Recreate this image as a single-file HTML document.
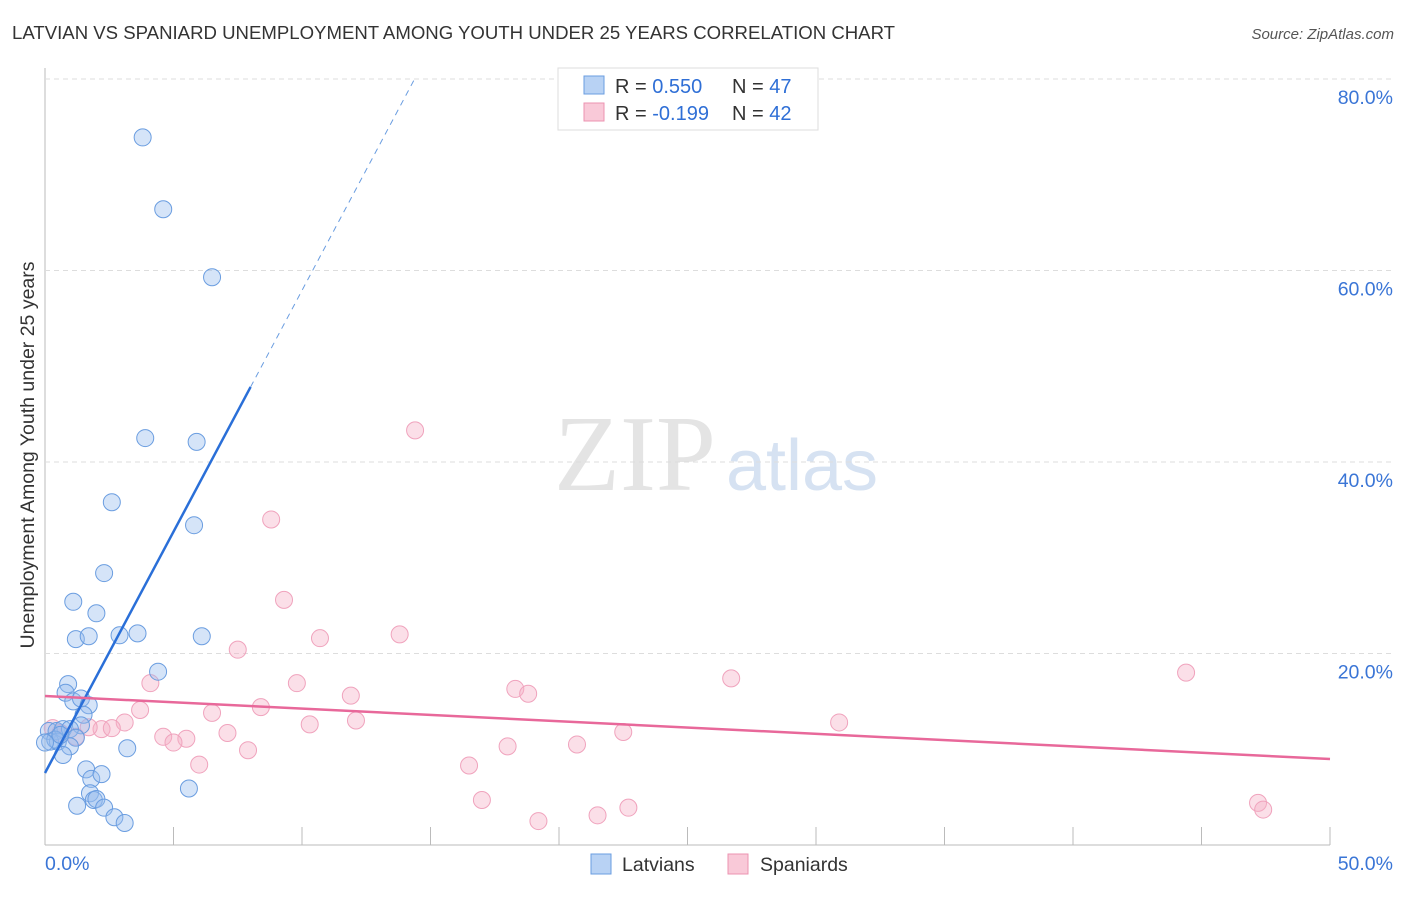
<!DOCTYPE html>
<html><head><meta charset="utf-8"><style>
body{margin:0;background:#fff;font-family:"Liberation Sans",sans-serif}
svg text{font-family:"Liberation Sans",sans-serif}
</style></head><body>
<svg id="c" width="1406" height="892" xmlns="http://www.w3.org/2000/svg">
<text x="12" y="39" font-size="18.6" fill="#333">LATVIAN VS SPANIARD UNEMPLOYMENT AMONG YOUTH UNDER 25 YEARS CORRELATION CHART</text>
<text x="1394" y="39" font-size="15" fill="#555" text-anchor="end" font-style="italic">Source: ZipAtlas.com</text>
<text x="635" y="490" font-size="108" fill="#e4e4e4" text-anchor="middle" style="font-family:'Liberation Serif',serif">ZIP</text>
<text x="802" y="490" font-size="72" fill="#d6e2f2" text-anchor="middle">atlas</text>
<text x="34" y="455" font-size="19.5" fill="#333" text-anchor="middle" transform="rotate(-90 34 455)">Unemployment Among Youth under 25 years</text>
<g id="grid"></g><g id="marks"></g>
<g>
<rect x="558" y="68" width="260" height="62" fill="#fff" stroke="#ddd"/>
<rect x="584" y="76" width="20" height="18" fill="#b8d2f4" stroke="#6a9de0"/>
<rect x="584" y="103" width="20" height="18" fill="#f9c9d8" stroke="#ec93b1"/>
<text x="615" y="93" font-size="20" fill="#333">R = <tspan fill="#2f6fd6">0.550</tspan></text>
<text x="732" y="93" font-size="20" fill="#333">N = <tspan fill="#2f6fd6">47</tspan></text>
<text x="615" y="120" font-size="20" fill="#333">R = <tspan fill="#2f6fd6">-0.199</tspan></text>
<text x="732" y="120" font-size="20" fill="#333">N = <tspan fill="#2f6fd6">42</tspan></text>
</g>
<g>
<rect x="591" y="854" width="20" height="20" fill="#b8d2f4" stroke="#6a9de0"/>
<text x="622" y="871" font-size="19.5" fill="#333">Latvians</text>
<rect x="728" y="854" width="20" height="20" fill="#f9c9d8" stroke="#ec93b1"/>
<text x="760" y="871" font-size="19.5" fill="#333">Spaniards</text>
</g>
</svg>
<script>
const blueX=[3.8,4.6,6.5,3.9,5.9,2.6,5.8,2.3,1.1,2.0,1.2,1.7,2.9,3.6,6.1,4.4,0.9,0.8,1.1,1.4,1.7,1.5,1.4,0.15,0.45,0.7,0.97,1.2,0.2,0.5,0.97,0.7,3.2,1.6,1.8,2.2,5.6,1.75,1.25,1.9,2.0,2.3,2.7,3.1,0.4,0.6,0.0];
const blueY=[73.9,66.4,59.3,42.5,42.1,35.8,33.4,28.4,25.4,24.2,21.5,21.8,21.9,22.1,21.8,18.1,16.8,15.9,15.0,15.3,14.6,13.6,12.5,11.9,11.9,12.1,12.1,11.2,10.8,10.8,10.3,9.4,10.1,7.9,6.9,7.4,5.9,5.4,4.1,4.7,4.8,3.9,2.9,2.3,11.0,11.5,10.7];
const pinkX=[14.4,8.8,9.3,13.8,10.7,7.5,44.4,26.7,4.1,9.8,18.3,18.8,11.9,8.4,3.7,6.5,30.9,12.1,3.1,10.3,2.2,2.6,1.7,7.1,4.6,5.5,5.0,20.7,18.0,22.5,7.9,1.2,6.0,16.5,17.0,22.7,47.2,47.4,21.5,19.2,0.3,0.6];
const pinkY=[43.3,34.0,25.6,22.0,21.6,20.4,18.0,17.4,16.9,16.9,16.3,15.8,15.6,14.4,14.1,13.8,12.8,13.0,12.8,12.6,12.1,12.2,12.3,11.7,11.3,11.1,10.7,10.5,10.3,11.8,9.9,11.3,8.4,8.3,4.7,3.9,4.4,3.7,3.1,2.5,12.2,11.7];
const yTicks=[20,40,60,80], xTickLabels=["0.0%","50.0%"];
const blueFit=[7.52,5.04], pinkFit=[15.56,-0.1316];
const X=v=>45+v*25.7, Y=v=>845-v*9.575;
const NS="http://www.w3.org/2000/svg";
function mk(t,a,p){const e=document.createElementNS(NS,t);for(const k in a)e.setAttribute(k,a[k]);p.appendChild(e);return e;}
const g=document.getElementById('grid'), m=document.getElementById('marks');
mk('line',{x1:45,y1:68,x2:45,y2:845,stroke:'#bbb'},g);
mk('line',{x1:45,y1:845,x2:1330,y2:845,stroke:'#bbb'},g);
for(let i=0;i<=10;i++){const l=mk('line',{x1:X(i*5),y1:827,x2:X(i*5),y2:845,stroke:'#bbb'},g);

}
yTicks.forEach(v=>{const l=mk('line',{x1:45,y1:Y(v),x2:1394,y2:Y(v),stroke:'#ddd','stroke-dasharray':'5 4'},g);


const t=mk('text',{x:1393,y:Y(v)+25,'font-size':19.5,fill:'#3a75d6','text-anchor':'end'},g);t.textContent=v.toFixed(1)+'%';

});
xTickLabels.forEach((s,i)=>{const t=mk('text',{x:i?1393:45,y:870,'font-size':19.5,fill:'#3a75d6','text-anchor':i?'end':'start'},g);t.textContent=s;

});
pinkX.forEach((x,i)=>{const c=mk('circle',{cx:X(x),cy:Y(pinkY[i]),r:8.5,fill:'rgba(246,175,198,0.4)',stroke:'#f0a3bd','stroke-width':1},m);

});
blueX.forEach((x,i)=>{const c=mk('circle',{cx:X(x),cy:Y(blueY[i]),r:8.5,fill:'rgba(150,188,238,0.4)',stroke:'#6a9de0','stroke-width':1},m);

});
const xe=8.0, xd=(80-blueFit[0])/blueFit[1];
let l=mk('line',{x1:X(0),y1:Y(blueFit[0]),x2:X(xe),y2:Y(blueFit[0]+blueFit[1]*xe),stroke:'#2a6fd8','stroke-width':2.5},m);


l=mk('line',{x1:X(xe),y1:Y(blueFit[0]+blueFit[1]*xe),x2:X(xd),y2:Y(80),stroke:'#6a9de0','stroke-width':1,'stroke-dasharray':'6 5'},m);


l=mk('line',{x1:X(0),y1:Y(pinkFit[0]),x2:X(50),y2:Y(pinkFit[0]+pinkFit[1]*50),stroke:'#e8689a','stroke-width':2.5},m);


</script>
</body></html>
